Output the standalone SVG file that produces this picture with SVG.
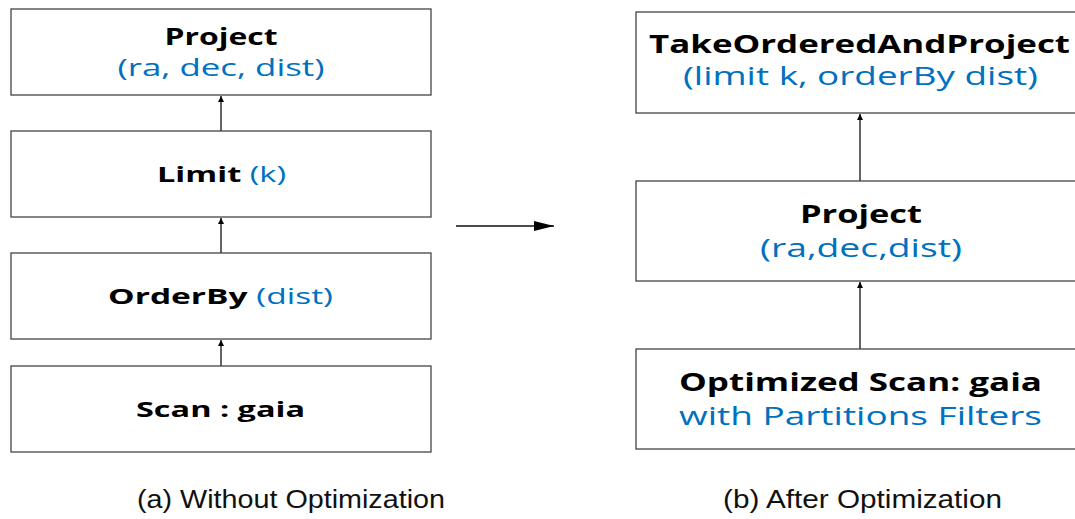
<svg xmlns="http://www.w3.org/2000/svg" width="1075" height="519" viewBox="0 0 1075 519">
<style>
.box{fill:#fff;stroke:#444;stroke-width:1.3}
.t{font-family:"Open Sans","DejaVu Sans",sans-serif;font-weight:bold;fill:#000;text-anchor:middle}
.b{font-family:"Open Sans","DejaVu Sans",sans-serif;font-weight:normal;fill:#0070C0}
.bl{font-family:"Open Sans","DejaVu Sans",sans-serif;fill:#0070C0;text-anchor:middle}
.cap{font-family:"Liberation Sans",Arial,sans-serif;font-size:26.5px;fill:#111;text-anchor:middle}
.c{stroke:#111;stroke-width:1.3;fill:none}
</style>
<defs>
<marker id="ah" viewBox="0 0 10 10" refX="10" refY="5" markerWidth="6" markerHeight="6" markerUnits="userSpaceOnUse" orient="auto">
<path d="M0,0 L10,5 L0,10 z" fill="#000"/>
</marker>
<marker id="ahL" viewBox="0 0 20 10" refX="20" refY="5" markerWidth="20" markerHeight="10" markerUnits="userSpaceOnUse" orient="auto">
<path d="M0,0 L20,5 L0,10 z" fill="#000"/>
</marker>
</defs>
<g id="connectors">
<line class="c" x1="221" y1="131" x2="221" y2="96" marker-end="url(#ah)"/>
<line class="c" x1="221" y1="253" x2="221" y2="218" marker-end="url(#ah)"/>
<line class="c" x1="221" y1="366" x2="221" y2="340" marker-end="url(#ah)"/>
<line class="c" x1="860" y1="181" x2="860" y2="114" marker-end="url(#ah)"/>
<line class="c" x1="860" y1="349" x2="860" y2="282" marker-end="url(#ah)"/>
<line class="c" x1="456" y1="226" x2="554" y2="226" marker-end="url(#ahL)"/>
</g>
<g id="a-project">
<rect class="box" x="11" y="9" width="420" height="86"/>
<text class="t" x="221" y="45" font-size="23.5" textLength="113" lengthAdjust="spacingAndGlyphs">Project</text>
<text class="bl" x="221" y="76" font-size="23.5" textLength="207" lengthAdjust="spacingAndGlyphs">(ra, dec, dist)</text>
</g>
<g id="a-limit">
<rect class="box" x="11" y="131" width="420" height="86"/>
<text class="t" x="221.5" y="182" font-size="22" textLength="129" lengthAdjust="spacingAndGlyphs">Limit <tspan class="b">(k)</tspan></text>
</g>
<g id="a-orderby">
<rect class="box" x="11" y="253" width="420" height="86"/>
<text class="t" x="220.5" y="304" font-size="22" textLength="225" lengthAdjust="spacingAndGlyphs">OrderBy <tspan class="b">(dist)</tspan></text>
</g>
<g id="a-scan">
<rect class="box" x="11" y="366" width="420" height="86"/>
<text class="t" x="220.5" y="417" font-size="22" textLength="169" lengthAdjust="spacingAndGlyphs">Scan : gaia</text>
</g>
<g id="b-take">
<rect class="box" x="636" y="12" width="450" height="101"/>
<text class="t" x="859.5" y="53" font-size="25.5" textLength="421" lengthAdjust="spacingAndGlyphs">TakeOrderedAndProject</text>
<text class="bl" x="860.5" y="85" font-size="25.5" textLength="355" lengthAdjust="spacingAndGlyphs">(limit k, orderBy dist)</text>
</g>
<g id="b-project">
<rect class="box" x="636" y="181" width="450" height="100"/>
<text class="t" x="861" y="223" font-size="25.5" textLength="122" lengthAdjust="spacingAndGlyphs">Project</text>
<text class="bl" x="861" y="257" font-size="25.5" textLength="202" lengthAdjust="spacingAndGlyphs">(ra,dec,dist)</text>
</g>
<g id="b-scan">
<rect class="box" x="636" y="349" width="450" height="100"/>
<text class="t" x="860.5" y="391" font-size="25.5" textLength="363" lengthAdjust="spacingAndGlyphs">Optimized Scan: gaia</text>
<text class="bl" x="860.5" y="425" font-size="25.5" textLength="363" lengthAdjust="spacingAndGlyphs">with Partitions Filters</text>
</g>
<g id="captions">
<text class="cap" x="291" y="508" textLength="308" lengthAdjust="spacingAndGlyphs">(a) Without Optimization</text>
<text class="cap" x="862.5" y="508" textLength="279" lengthAdjust="spacingAndGlyphs">(b) After Optimization</text>
</g>
</svg>
